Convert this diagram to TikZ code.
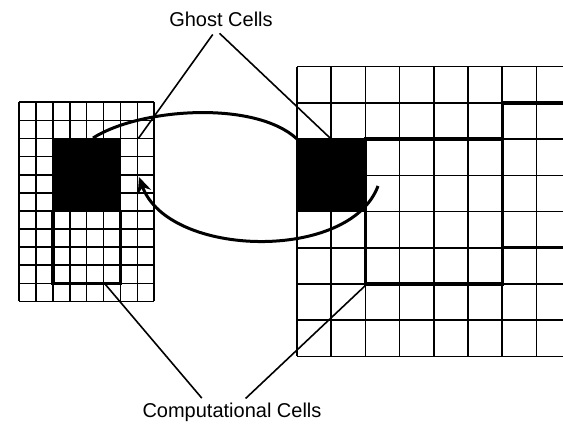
\documentclass[tikz,border=0pt]{standalone}
\usepackage{fontspec}
\setmainfont{Liberation Sans}
\usetikzlibrary{arrows.meta, positioning}

\begin{document}
\begin{tikzpicture}[x=1pt, y=-1pt, line width=1.6pt,
    gridline/.style={line width=1.6pt},
    patchedge/.style={line width=3.4pt},
    exchange/.style={line width=3pt},
    leader/.style={line width=1.6pt},
    caption/.style={font=\fontsize{20}{24}\selectfont, inner sep=0pt}]
        \clip (0,0) rectangle (563,428);
        % fine patch
        \fill (52.8,138.5) rectangle (120.4,210.9);
        \foreach \i in {0,...,8}
            \draw[gridline] (19+16.9*\i,102.3) -- (19+16.9*\i,301.4);
        \foreach \j in {0,...,11}
            \draw[gridline] (19,102.3+18.1*\j) -- (154.2,102.3+18.1*\j);
        \draw[patchedge] (52.8,210.9) -- (52.8,283.3) -- (120.4,283.3) -- (120.4,210.9);
        % coarse patch
        \fill (297,139.1) rectangle (365.4,211.5);
        \foreach \i in {0,...,8}
            \draw[gridline] (297+34.2*\i,66.7) -- (297+34.2*\i,356.3);
        \foreach \j in {0,...,8}
            \draw[gridline] (297,66.7+36.2*\j) -- (580,66.7+36.2*\j);
        \draw[patchedge] (365.4,139.1) -- (502.2,139.1) -- (502.2,283.9) -- (365.4,283.9) -- cycle;
        \draw[patchedge] (580,102.9) -- (502.2,102.9) -- (502.2,247.5) -- (580,247.5);
        % exchange
        \draw[exchange] (93,138) .. controls (140,108) and (255,100) .. (297,139);
        \draw[exchange, -{Stealth[length=16pt, width=14pt]}] (378,186) .. controls (350,262) and (168,258) .. (139,177);
        % labels
        \node[caption] (ghost) at (221,19) {Ghost Cells};
        \node[caption] (comp) at (232,412) {Computational Cells};
        \coordinate (lghost) at (138.3,138.5);
        \coordinate (rghost) at (331.2,139.1);
        \coordinate (lcomp) at (105,284);
        \coordinate (rcomp) at (367,284);
        \draw[leader, shorten <=9pt] ([xshift=-3pt]ghost.south) -- (lghost);
        \draw[leader, shorten <=9pt] ([xshift=-8pt]ghost.south) -- (rghost);
        \draw[leader, shorten >=5pt] (lcomp) -- ([xshift=-27pt]comp.north);
        \draw[leader, shorten >=5pt] (rcomp) -- ([xshift=10pt]comp.north);
    \end{tikzpicture}
\end{document}
